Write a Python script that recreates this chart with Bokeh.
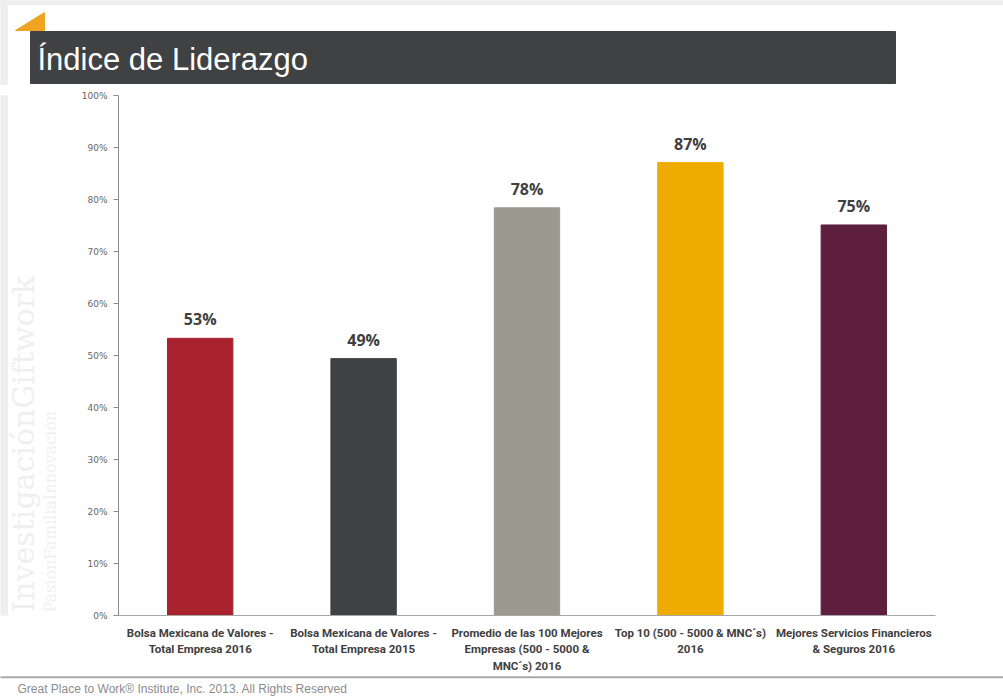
from bokeh.plotting import figure
from bokeh.models import Range1d, FixedTicker, ColumnDataSource
from bokeh.layouts import column, row
from bokeh.core.properties import value
from bokeh.embed import file_html
from bokeh.resources import INLINE
import math

categories = [
    "Bolsa Mexicana de Valores -\nTotal Empresa 2016",
    "Bolsa Mexicana de Valores -\nTotal Empresa 2015",
    "Promedio de las 100 Mejores\nEmpresas (500 - 5000 &\nMNC´s) 2016",
    "Top 10 (500 - 5000 & MNC´s)\n2016",
    "Mejores Servicios Financieros\n& Seguros 2016",
]
values = [53.3, 49.4, 78.4, 87.1, 75.1]
value_labels = ["53%", "49%", "78%", "87%", "75%"]
colors = ["#A8232E", "#404142", "#9A9A8E", "#F0AB00", "#5E1F3E"]
y_ticks = [0, 10, 20, 30, 40, 50, 60, 70, 80, 90, 100]
title_text = "Índice de Liderazgo"
footer_text = "Great Place to Work® Institute, Inc. 2013. All Rights Reserved"
watermark = ["InvestigaciónGiftwork", "PasiónFamiliaInnovación"]

W = 1003
HEAD_H = 85
FOOT_H = 24
MAIN_H = 700 - HEAD_H - FOOT_H
WM_W = 60


def blank(width, height, x0, x1, y_top, y_bottom):
    f = figure(width=width, height=height, x_range=Range1d(x0, x1), y_range=Range1d(y_bottom, y_top),
               output_backend="svg", toolbar_location=None, x_axis_type=None, y_axis_type=None,
               min_border=0, title=None)
    f.outline_line_color = None
    f.xgrid.visible = False
    f.ygrid.visible = False
    f.background_fill_color = "white"
    f.border_fill_color = "white"
    return f


# ---------- header ----------
head = blank(W, HEAD_H, 0, W, 0, HEAD_H)
head.quad(left=[0], right=[W], top=[0], bottom=[4], color="#eeeeee")
head.quad(left=[0], right=[7], top=[0], bottom=[HEAD_H], color="#eeeeee")
head.quad(left=[30], right=[895], top=[31], bottom=[83], color="#404142")
head.patch(x=[15, 44, 44], y=[30, 30, 12], color="#F0A31E")
head.text(x=[37], y=[59], text=[title_text], text_font=value("Liberation Sans"),
          text_font_size="31px", text_color="white", text_baseline="middle")

# ---------- watermark column (its frame is aligned with the chart frame: 95..615) ----------
wm = blank(WM_W, MAIN_H, 0, WM_W, 95, 615)
wm.quad(left=[0], right=[7], top=[95], bottom=[615], color="#eeeeee")
wm.text(x=[40], y=[612], text=[watermark[0]], angle=math.pi / 2, text_font=value("DejaVu Serif"),
        text_font_size="30px", text_color="#efefef", text_baseline="bottom", text_align="left")
wm.text(x=[59], y=[612], text=[watermark[1]], angle=math.pi / 2, text_font=value("DejaVu Serif"),
        text_font_size="16px", text_color="#f0f0f0", text_baseline="bottom", text_align="left")

# ---------- main chart ----------
src = ColumnDataSource(dict(cat=categories, val=values, lab=value_labels, col=colors))

p = figure(width=W - WM_W, height=MAIN_H, x_range=categories, y_range=Range1d(0, 100),
           output_backend="svg", toolbar_location=None, title=None,
           min_border_left=118 - WM_W, min_border_right=68, min_border_top=95 - HEAD_H,
           min_border_bottom=HEAD_H + MAIN_H - 615)
p.background_fill_color = "white"
p.border_fill_color = "white"
p.outline_line_color = None
p.xgrid.grid_line_color = None
p.ygrid.grid_line_color = None
p.x_range.range_padding = 0

p.vbar(x="cat", top="val", width=0.4, color="col", source=src)
p.text(x="cat", y="val", text="lab", source=src, y_offset=-8,
       text_align="center", text_baseline="bottom",
       text_font=value("Open Sans"), text_font_style="bold",
       text_font_size="16px", text_color="#404040")

ya = p.yaxis[0]
ya.ticker = FixedTicker(ticks=y_ticks)
ya.major_label_overrides = {t: f"{t}%" for t in y_ticks}
ya.major_label_text_font = "DejaVu Sans"
ya.major_label_text_font_size = "9px"
ya.major_label_text_color = "#666666"
ya.axis_line_color = "#8c8c8c"
ya.major_tick_line_color = "#8c8c8c"
ya.major_tick_in = 0
ya.major_tick_out = 5
ya.minor_tick_line_color = None
ya.major_label_standoff = 6

xa = p.xaxis[0]
xa.axis_line_color = "#a6a6a6"
xa.major_tick_line_color = None
xa.minor_tick_line_color = None
xa.major_label_text_font = "Roboto"
xa.major_label_text_font_style = "bold"
xa.major_label_text_font_size = "11.5px"
xa.major_label_text_color = "#404040"
xa.major_label_standoff = 4

# ---------- footer ----------
foot = blank(W, FOOT_H, 0, W, 0, FOOT_H)
foot.quad(left=[0], right=[W], top=[0], bottom=[1.2], color="#a0a0a0")
foot.text(x=[17], y=[12], text=[footer_text], text_font=value("Liberation Sans"),
          text_font_size="12px", text_color="#8c8c8c", text_baseline="middle")

layout = column(head, row(wm, p, spacing=0), foot, spacing=0)
open("out.html", "w").write(file_html(layout, INLINE))
